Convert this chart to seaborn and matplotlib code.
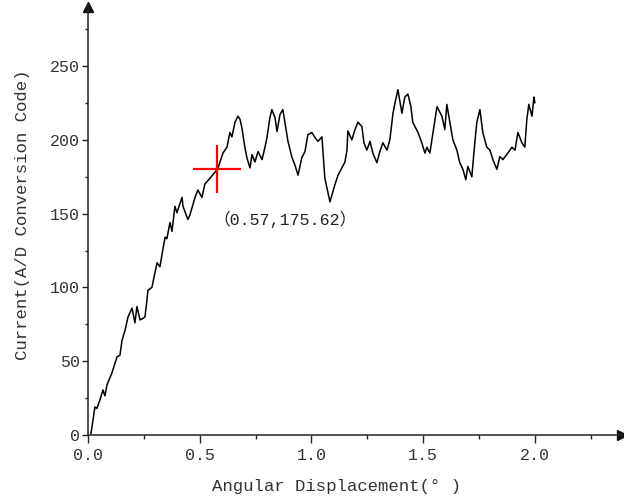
import matplotlib
matplotlib.use("Agg")
import matplotlib.pyplot as plt
import numpy as np
import pandas as pd
import seaborn as sns
from matplotlib.ticker import MultipleLocator

# ---- data ----
angle = [0.013, 0.031, 0.040, 0.054, 0.067, 0.076, 0.085, 0.107, 0.130, 0.143,
         0.152, 0.166, 0.179, 0.197, 0.210, 0.219, 0.233, 0.246, 0.255, 0.264,
         0.268, 0.286, 0.300, 0.309, 0.322, 0.336, 0.345, 0.353, 0.367, 0.376,
         0.389, 0.398, 0.421, 0.425, 0.447, 0.456, 0.479, 0.492, 0.510, 0.523,
         0.546, 0.568, 0.582, 0.604, 0.622, 0.635, 0.644, 0.658, 0.671, 0.680,
         0.689, 0.702, 0.711, 0.725, 0.734, 0.747, 0.761, 0.779, 0.792, 0.801,
         0.814, 0.823, 0.837, 0.846, 0.859, 0.872, 0.881, 0.895, 0.913, 0.926,
         0.940, 0.957, 0.971, 0.984, 1.002, 1.016, 1.029, 1.047, 1.060, 1.069,
         1.083, 1.105, 1.119, 1.136, 1.150, 1.159, 1.163, 1.181, 1.195, 1.208,
         1.226, 1.235, 1.248, 1.262, 1.275, 1.293, 1.306, 1.320, 1.338, 1.351,
         1.365, 1.374, 1.387, 1.405, 1.418, 1.432, 1.445, 1.454, 1.477, 1.494,
         1.508, 1.517, 1.530, 1.544, 1.562, 1.584, 1.597, 1.606, 1.620, 1.633,
         1.651, 1.664, 1.678, 1.691, 1.700, 1.718, 1.727, 1.740, 1.754, 1.767,
         1.785, 1.799, 1.812, 1.830, 1.843, 1.857, 1.879, 1.897, 1.911, 1.924,
         1.942, 1.955, 1.964, 1.973, 1.987, 1.996, 2.000]
current = [0.7, 19, 18, 24, 30.5, 26.5, 34, 42, 53, 54,
           64, 71, 80, 86, 76, 87, 78, 79, 80, 91.6,
           98, 100, 110, 116.7, 114, 126.5, 134, 133, 144, 138,
           155, 150.6, 161, 155, 146, 149, 161, 166, 161, 170,
           174, 178, 181, 191, 195, 205, 202, 212, 216, 214,
           208, 195, 188, 181, 190, 185, 192, 186.6, 195, 201.5,
           215, 220.5, 215, 205.6, 217, 220.5, 212, 199, 188, 183,
           176, 188, 192, 203.5, 205, 201.5, 199, 202, 174, 167.6,
           158, 169.6, 176, 181, 185, 193, 206, 200, 207, 212,
           209, 198, 193, 199, 191, 184.5, 192, 198, 193, 200,
           218, 225, 234, 218, 229, 231, 222.5, 211.7, 205, 198,
           191, 195, 191, 205, 222.5, 216, 207, 224, 211.7, 200,
           193, 184.5, 180, 173, 182, 175, 191, 211.7, 220.5, 205,
           195, 193, 186.6, 180, 188.6, 186.6, 191, 195, 193, 205,
           198, 195, 213.7, 224, 216, 229, 225]

cross_x = [0.578]
cross_y = [180]
annot_text = "（0.57,175.62）"
annot_pos = (0.559, 146)

x_ticks = [0.0, 0.5, 1.0, 1.5, 2.0]
x_ticklabels = ["0.0", "0.5", "1.0", "1.5", "2.0"]
y_ticks = [0, 50, 100, 150, 200, 250]
y_ticklabels = ["0", "50", "100", "150", "200", "250"]
x_label = "Angular Displacement(° )"
y_label = "Current(A/D Conversion Code)"

# ---- plot ----
sns.set_theme(style="ticks")
plt.rcParams["font.family"] = ["Liberation Mono", "Noto Sans CJK SC", "DejaVu Sans"]

fig = plt.figure(figsize=(6.24, 5.0), dpi=100)
ax = fig.add_axes([88 / 624, 65 / 500, 534 / 624, 428 / 500])

df = pd.DataFrame({"angle": angle, "current": current})
sns.lineplot(data=df, x="angle", y="current", ax=ax, color="black",
             linewidth=1.1, sort=False, estimator=None)

ax.plot(cross_x, cross_y, linestyle="none", marker="+", markersize=34,
        markeredgewidth=1.6, color="#ff0000", zorder=5)
ax.text(annot_pos[0], annot_pos[1], annot_text, fontsize=12, ha="left",
        va="center", color="#222222")

ax.set_xlim(0, 2.39)
ax.set_ylim(0, 290)
ax.set_xticks(x_ticks)
ax.set_xticklabels(x_ticklabels)
ax.set_yticks(y_ticks)
ax.set_yticklabels(y_ticklabels)
ax.xaxis.set_minor_locator(MultipleLocator(0.25))
ax.yaxis.set_minor_locator(MultipleLocator(25))

for s in ["top", "right"]:
    ax.spines[s].set_visible(False)
for s in ["left", "bottom"]:
    ax.spines[s].set_color("#222222")
    ax.spines[s].set_linewidth(1.1)

ax.tick_params(axis="x", which="major", length=6, width=1.0, color="#222222",
               labelsize=12, labelcolor="#333333", pad=3)
ax.tick_params(axis="x", which="minor", length=3, width=1.0, color="#222222")
ax.tick_params(axis="y", which="major", length=4, width=1.0, color="#222222",
               labelsize=12, labelcolor="#333333", pad=2)
ax.tick_params(axis="y", which="minor", length=2.5, width=1.0, color="#222222")

ax.set_xlabel(x_label, fontsize=12.5, color="#333333")
ax.set_ylabel(y_label, fontsize=12.5, color="#333333")
ax.xaxis.set_label_coords(0.466, -0.103)
ax.yaxis.set_label_coords(-0.108, 0.514)

# arrow heads at the axis ends
ax.plot(1, 0, marker=">", color="#111111", markersize=7, transform=ax.transAxes,
        clip_on=False)
ax.plot(0, 1, marker="^", color="#111111", markersize=7, transform=ax.transAxes,
        clip_on=False)

fig.savefig("out.png", dpi=100)
